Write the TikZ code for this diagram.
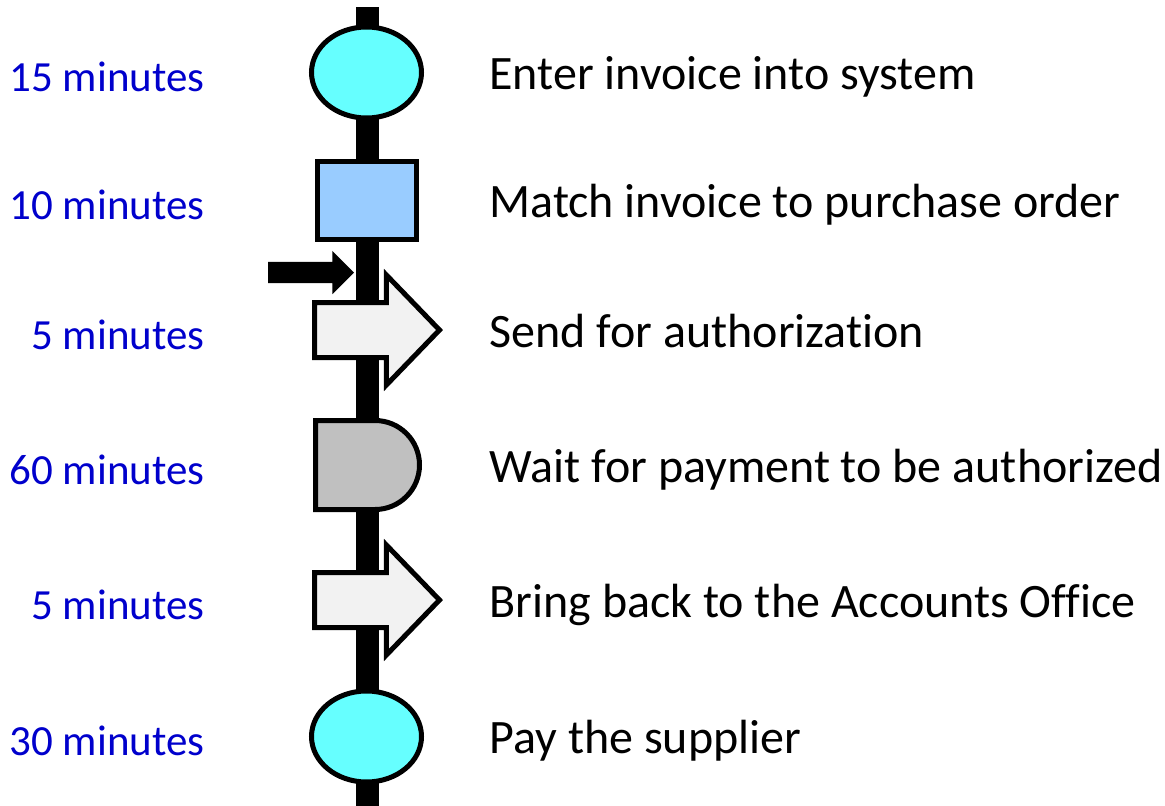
\documentclass[tikz,border=0pt]{standalone}
\usepackage{fontspec}
\setmainfont{Carlito}[Ligatures=NoCommon]
\usetikzlibrary{shapes.geometric,shapes.arrows,shapes.misc}
\definecolor{timeblue}{RGB}{0,0,204}
\definecolor{opcyan}{RGB}{102,255,255}
\definecolor{inspblue}{RGB}{153,204,255}
\definecolor{movegray}{RGB}{242,242,242}
\definecolor{delaygray}{RGB}{192,192,192}

\begin{document}
\begin{tikzpicture}[x=1pt,y=1pt,
	box/.style={draw,line width=5pt,inner sep=0pt,outer sep=0pt},
	oper/.style={box,ellipse,fill=opcyan,minimum width=110pt,minimum height=91pt},
	insp/.style={box,rectangle,fill=inspblue,minimum width=99pt,minimum height=78pt},
	move/.style={box,single arrow,fill=movegray,anchor=tail,inner ysep=25pt,
		minimum width=105pt,minimum height=125pt,
		single arrow head extend=27.5pt,single arrow tip angle=92},
	delay/.style={box,rounded rectangle,rounded rectangle left arc=none,fill=delaygray,
		minimum width=104pt,minimum height=89pt},
	push/.style={single arrow,fill=black,anchor=tail,inner xsep=0pt,inner ysep=10.5pt,outer sep=0pt,
		minimum width=43pt,minimum height=86pt,single arrow head extend=11pt},
	time/.style={anchor=base east,text=timeblue,font=\fontsize{43}{50}\selectfont},
	task/.style={anchor=base west,font=\fontsize{48}{56}\selectfont}]
	\useasboundingbox (0,0) rectangle (1165,-806);
	\coordinate (top) at (367,-7);
	\coordinate (bot) at (367,-806);
	\draw[line width=23pt] (top) -- (bot);
	\node[oper] (enter) at (366.5,-72.5) {};
	\node[time] (t1) at (208,-91.5) {15 minutes};
	\node[task] (s1) at (486,-89.5) {Enter invoice into system};
	\node[insp] (match) at (367,-200.5) {};
	\node[time] (t2) at (208,-219.5) {10 minutes};
	\node[task] (s2) at (486,-217.5) {Match invoice to purchase order};
	\node[push] (inflow) at (268,-272.5) {};
	\node[move] (send) at (314.5,-330) {};
	\node[time] (t3) at (208,-349) {5 minutes};
	\node[task] (s3) at (486,-347) {Send for authorization};
	\node[delay] (wait) at (367.5,-465) {};
	\node[time] (t4) at (208,-484) {60 minutes};
	\node[task] (s4) at (486,-482) {Wait for payment to be authorized};
	\node[move] (bring) at (314.5,-600) {};
	\node[time] (t5) at (208,-619) {5 minutes};
	\node[task] (s5) at (486,-617) {Bring back to the Accounts Office};
	\node[oper] (pay) at (366.5,-736.5) {};
	\node[time] (t6) at (208,-755.5) {30 minutes};
	\node[task] (s6) at (486,-753.5) {Pay the supplier};
\end{tikzpicture}
\end{document}
